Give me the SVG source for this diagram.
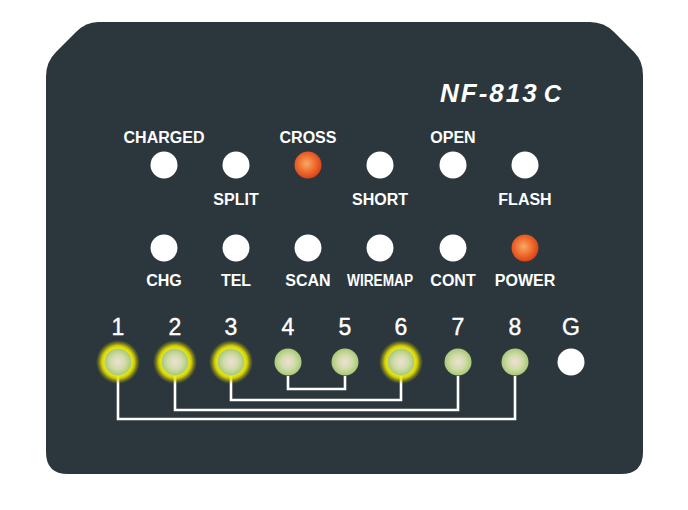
<svg xmlns="http://www.w3.org/2000/svg" width="688" height="510" viewBox="0 0 688 510">
<defs>
<radialGradient id="orange" cx="0.45" cy="0.45" r="0.55">
<stop offset="0" stop-color="#f7a867"/>
<stop offset="0.6" stop-color="#ee6a2c"/>
<stop offset="1" stop-color="#d9441a"/>
</radialGradient>
<radialGradient id="green" cx="0.5" cy="0.5" r="0.5">
<stop offset="0" stop-color="#f1dfd6"/>
<stop offset="0.55" stop-color="#cfdca8"/>
<stop offset="1" stop-color="#a9c877"/>
</radialGradient>
<radialGradient id="glow" cx="0.5" cy="0.5" r="0.5">
<stop offset="0.6" stop-color="#f6f20a" stop-opacity="1"/>
<stop offset="0.75" stop-color="#e6e200" stop-opacity="0.85"/>
<stop offset="1" stop-color="#a8a400" stop-opacity="0"/>
</radialGradient>
</defs>
<style>
.lbl{font-family:"Liberation Sans",Arial,sans-serif;font-weight:bold;font-size:16px;fill:#ffffff;text-anchor:middle}
.num{font-family:"Liberation Sans",Arial,sans-serif;font-size:23px;fill:#ffffff;text-anchor:middle;stroke:#ffffff;stroke-width:0.4}
.w{fill:#ffffff}
.wire{fill:none;stroke:#ffffff;stroke-width:2.6}
</style>
<rect width="688" height="510" fill="#ffffff"/>
<g id="panel">
<path d="M98,22 L590,22 Q604,22 614,32 L634,52 Q643,61 643,75 L643,452 Q643,474 621,474 L68,474 Q46,474 46,452 L46,76 Q46,62 56,52 L76,32 Q86,22 98,22 Z" fill="#2c373d"/>
<text x="440" y="102" font-family="Liberation Sans,Arial,sans-serif" font-weight="bold" font-style="italic" font-size="26" fill="#ffffff" letter-spacing="2">NF-813<tspan dx="5" font-size="24">C</tspan></text>
</g>
<g id="row1">
<g id="charged"><text class="lbl" x="164" y="143">CHARGED</text><circle class="w" cx="164" cy="165" r="13.5"/></g>
<g id="split"><circle class="w" cx="236" cy="165" r="13.5"/><text class="lbl" x="236" y="205">SPLIT</text></g>
<g id="cross"><text class="lbl" x="308" y="143">CROSS</text><circle fill="url(#orange)" cx="308" cy="165" r="13.5"/></g>
<g id="short"><circle class="w" cx="380" cy="165" r="13.5"/><text class="lbl" x="380" y="205">SHORT</text></g>
<g id="open"><text class="lbl" x="453" y="143">OPEN</text><circle class="w" cx="453" cy="165" r="13.5"/></g>
<g id="flash"><circle class="w" cx="525" cy="165" r="13.5"/><text class="lbl" x="525" y="205">FLASH</text></g>
</g>
<g id="row2">
<g id="chg"><circle class="w" cx="164" cy="248" r="13.5"/><text class="lbl" x="164" y="286">CHG</text></g>
<g id="tel"><circle class="w" cx="236" cy="248" r="13.5"/><text class="lbl" x="236" y="286">TEL</text></g>
<g id="scan"><circle class="w" cx="308" cy="248" r="13.5"/><text class="lbl" x="308" y="286">SCAN</text></g>
<g id="wiremap"><circle class="w" cx="380" cy="248" r="13.5"/><text class="lbl" x="380" y="286" textLength="66" lengthAdjust="spacingAndGlyphs">WIREMAP</text></g>
<g id="cont"><circle class="w" cx="453" cy="248" r="13.5"/><text class="lbl" x="453" y="286">CONT</text></g>
<g id="power"><circle fill="url(#orange)" cx="525" cy="248" r="13.5"/><text class="lbl" x="525" y="286">POWER</text></g>
</g>
<g id="connectors">
<polyline class="wire" points="118,376 118,419 515,419 515,376"/>
<polyline class="wire" points="175,376 175,410 458,410 458,376"/>
<polyline class="wire" points="231,376 231,400 401,400 401,376"/>
<polyline class="wire" points="288,376 288,389 345,389 345,376"/>
</g>
<g id="pins">
<g id="pin1"><text class="num" x="118" y="335">1</text><circle fill="url(#glow)" cx="118" cy="362" r="22"/><circle fill="url(#green)" cx="118" cy="362" r="13.5"/></g>
<g id="pin2"><text class="num" x="175" y="335">2</text><circle fill="url(#glow)" cx="175" cy="362" r="22"/><circle fill="url(#green)" cx="175" cy="362" r="13.5"/></g>
<g id="pin3"><text class="num" x="231" y="335">3</text><circle fill="url(#glow)" cx="231" cy="362" r="22"/><circle fill="url(#green)" cx="231" cy="362" r="13.5"/></g>
<g id="pin4"><text class="num" x="288" y="335">4</text><circle fill="url(#green)" cx="288" cy="362" r="13.5"/></g>
<g id="pin5"><text class="num" x="345" y="335">5</text><circle fill="url(#green)" cx="345" cy="362" r="13.5"/></g>
<g id="pin6"><text class="num" x="401" y="335">6</text><circle fill="url(#glow)" cx="401" cy="362" r="22"/><circle fill="url(#green)" cx="401" cy="362" r="13.5"/></g>
<g id="pin7"><text class="num" x="458" y="335">7</text><circle fill="url(#green)" cx="458" cy="362" r="13.5"/></g>
<g id="pin8"><text class="num" x="515" y="335">8</text><circle fill="url(#green)" cx="515" cy="362" r="13.5"/></g>
<g id="pinG"><text class="num" x="571" y="335">G</text><circle class="w" cx="571" cy="362" r="13.5"/></g>
</g>
</svg>
